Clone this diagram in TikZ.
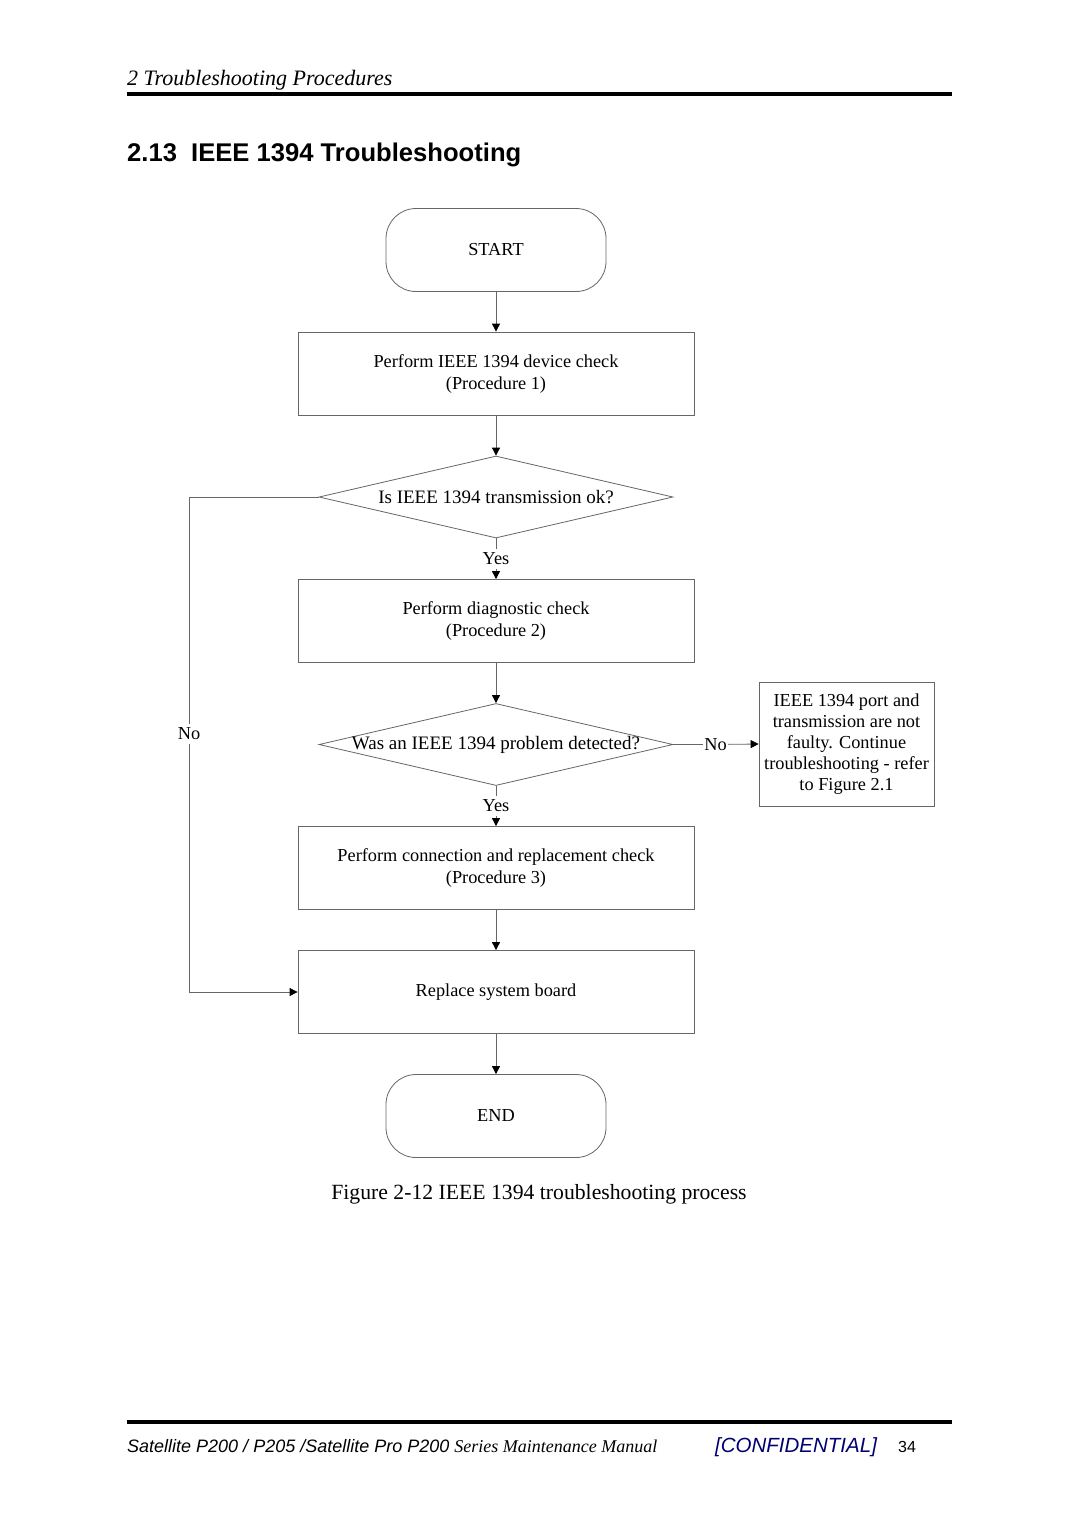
\documentclass[tikz,border=0pt]{standalone}
\usepackage{fontspec}
\setmainfont{Liberation Serif}
\setsansfont{Liberation Sans}
\usetikzlibrary{shapes.geometric,arrows.meta}

\tikzset{
  box/.style={draw=black!60,line width=0.8pt,minimum width=396pt,minimum height=83pt,
    align=center,font=\fontsize{18.3}{22}\selectfont},
  term/.style={box,rounded corners=30pt,minimum width=220pt},
  ask/.style={draw=black!60,line width=0.8pt,diamond,minimum width=354pt,minimum height=82pt,inner sep=0pt},
  asktext/.style={font=\fontsize{19}{22}\selectfont},
  line/.style={draw=black!60,line width=0.8pt},
  flow/.style={line,-{Triangle[length=8pt,width=8pt,fill=black,color=black]}},
  lbl/.style={inner xsep=1.5pt,inner ysep=4pt,font=\fontsize{18.3}{20}\selectfont},
}

\begin{document}
\begin{tikzpicture}[x=1pt,y=-1pt]
\useasboundingbox[fill=white] (0,0) rectangle (1080,1527);

% Kopfzeile
\node[anchor=base west,inner sep=0pt,font=\fontsize{22}{26}\selectfont\itshape] (kopf) at (127,85) {2 Troubleshooting Procedures};
\fill (127,92) rectangle (952,96);
\node[anchor=west,inner sep=0pt,font=\fontsize{25.6}{30}\selectfont\sffamily\bfseries] (titel) at (127,155) {2.13\ \ IEEE 1394 Troubleshooting};

% Ablauf
\node[term] (start) at (496,250) {START};
\node[box] (check) at (496,373.5) {Perform IEEE 1394 device check\\(Procedure 1)};
\node[ask] (ok) at (496,497) {};
\node[asktext] (okt) at (ok) {Is IEEE 1394 transmission ok?};
\node[box] (diag) at (496,621) {Perform diagnostic check\\(Procedure 2)};
\node[ask] (found) at (496,744.5) {};
\node[asktext] (foundt) at (found) {Was an IEEE 1394 problem detected?};
\node[box] (conn) at (496,868) {Perform connection and replacement check\\(Procedure 3)};
\node[box] (board) at (496,992) {Replace system board};
\node[term] (stop) at (496,1116) {END};

\node[box,minimum width=175pt,minimum height=124pt,font=\fontsize{18.3}{21}\selectfont,inner sep=1pt] (nofault) at (846.5,744)
  {IEEE 1394 port and\\transmission are not\\faulty. Continue\\troubleshooting - refer\\to Figure 2.1};

% Beschriftungen
\node[lbl] (yes1) at (496,559) {Yes};
\node[lbl] (yes2) at (496,806) {Yes};
\node[lbl] (no1) at (189,734) {No};
\node[lbl] (no2) at (715.5,744.5) {No};

% Pfeile
\draw[flow] (start) -- (check);
\draw[flow] (check) -- (ok);
\draw[line] (ok.south) -- (yes1);
\draw[flow] (yes1) -- (diag.north);
\draw[flow] (diag) -- (found);
\draw[line] (found.south) -- (yes2);
\draw[flow] (yes2) -- (conn.north);
\draw[flow] (conn) -- (board);
\draw[flow] (board) -- (stop);
\draw[line] (found.east) -- (no2);
\draw[flow] (no2) -- (nofault.west);
\draw[line] (ok.west) -| (no1);
\draw[flow] (no1) |- (board.west);

% Bildunterschrift
\node[font=\fontsize{21.7}{26}\selectfont] (bild) at (539,1194) {Figure 2-12 IEEE 1394 troubleshooting process};

% Fusszeile
\fill (127,1420) rectangle (952,1424);
\node[anchor=base west,inner sep=0pt] (fuss) at (127,1452)
  {\fontsize{18}{21}\selectfont\sffamily\itshape Satellite P200 / P205 /Satellite Pro P200 \rmfamily Series Maintenance Manual};
\node[anchor=base west,inner sep=0pt,text=blue!45!black,font=\fontsize{20.5}{23}\selectfont\sffamily\itshape] (vertr) at (715,1452) {[CONFIDENTIAL]};
\node[anchor=base west,inner sep=0pt,font=\fontsize{16}{18}\selectfont\sffamily] (seite) at (898,1452) {34};
\end{tikzpicture}
\end{document}
